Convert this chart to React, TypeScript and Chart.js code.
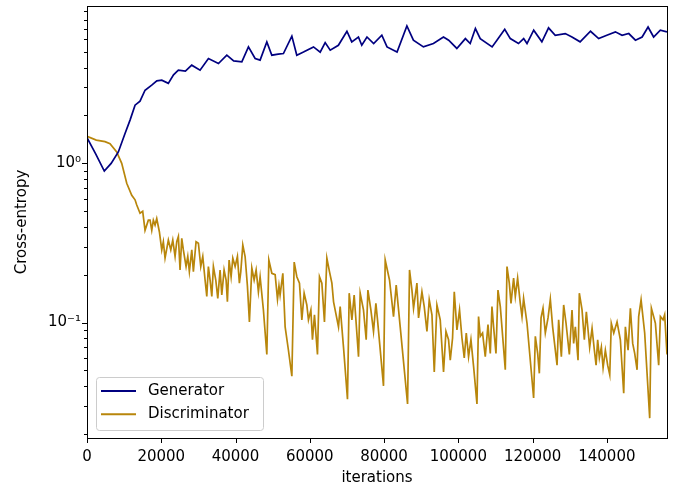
import React, { useEffect, useRef } from 'react';
import { Chart, registerables } from 'chart.js';

Chart.register(...registerables);

// ---------------- data ----------------
const genIter = [
  0, 2300, 4660, 6500, 8440, 10240, 11590, 12940, 14280, 15630, 17430, 18800, 20130, 21900, 23300,
  24600, 26500, 28200, 30450, 32700, 35400, 37650, 39500, 41700, 43480, 45280, 46620, 48430, 49780,
  51500, 52900, 55170, 56500, 58300, 61000, 62800, 64140, 65500, 67700, 70000, 71300, 73100, 74000,
  75400, 77200, 79400, 80800, 83500, 86150, 87900, 90600, 93300, 96000, 97400, 99600, 101900, 103200,
  104600, 105900, 109100, 110400, 112500, 114000, 116200, 117600, 118500, 120300, 122500, 124300,
  126100, 128800, 130600, 132800, 135600, 137800, 140000, 142300, 144100, 145900, 147700, 149500,
  151100, 152600, 154400, 156200,
];
const genLoss = [
  1.45, 1.15, 0.895, 1.0, 1.18, 1.54, 1.87, 2.32, 2.46, 2.88, 3.1, 3.3, 3.33, 3.18, 3.6,
  3.85, 3.8, 4.14, 3.85, 4.56, 4.24, 4.78, 4.4, 4.34, 5.39, 4.56, 4.45, 5.8, 4.78,
  4.85, 4.9, 6.3, 4.78, 5.0, 5.39, 5.0, 5.74, 5.14, 5.52, 6.76, 5.8, 6.22, 5.52,
  6.22, 5.66, 6.38, 5.39, 5.0, 7.3, 5.94, 5.39, 5.66, 6.22, 5.94, 5.27, 6.08, 5.66,
  7.03, 6.08, 5.39, 5.94, 6.96, 6.08, 5.66, 6.08, 5.66, 6.86, 5.8, 7.1,
  6.38, 6.54, 6.22, 5.8, 6.76, 6.08, 6.38, 6.7, 6.38, 6.54, 5.94, 6.22,
  7.19, 6.22, 6.86, 6.7,
];

const discIter = [
  0, 2500, 4850, 6200, 8000, 9350, 10700, 12050, 12940, 13400, 14280, 15000, 15630, 16520,
  16980, 17440, 17870, 18330, 18780, 19490, 20130, 20560, 21020, 21910, 22560, 23100, 23720, 24170,
  24610, 25060, 25520, 25950, 26680, 27140, 27570, 28220, 28650, 29370, 30000, 30640, 31180, 31800,
  32260, 32690, 33150, 33610, 34040, 34680, 35220, 35840, 36300, 36920, 37460, 37810, 38270, 38810,
  39270, 39890, 40510, 41040, 41420, 41960, 42580, 43200, 43740, 44390, 45010, 45550, 46160, 46620,
  47510, 48430, 48970,
  49780, 50670, 51300, 51700, 52000, 52740, 53360, 54250, 55170, 55800, 56510,
  57220, 57860, 58480, 59200, 59640, 60290, 60720, 61260, 62070, 62610, 63250, 63950, 64600, 65300,
  65950, 66400, 67730, 68180, 69080, 70150, 70610, 71340, 71950, 73120, 73570, 74460, 75190, 75650,
  76450, 77160, 77800, 78240, 79850, 80310, 80770, 81470, 82550, 83270, 84350, 86330, 86860, 87510,
  87940, 88850, 89290, 90200, 90820, 91550, 92170, 92900, 93520, 94240, 95130, 96020, 96670, 97370,
  97830, 98450, 98910, 99630, 100330, 100980, 101600, 102140, 102760, 103400, 104110, 105020, 105450,
  105910, 106530, 107260, 107990, 108610, 109060, 109500, 110140, 110680, 111310, 112650, 113110,
  113730, 114190, 114890, 115350, 115970, 116690, 117150, 117580, 118500, 120280, 120740, 121370,
  121820, 122280, 122810, 123430, 124160, 124780, 125400, 126590, 127020, 127750, 128370, 129010,
  129900, 130620, 131060, 131520, 132240, 132590, 133320, 133940, 134480, 135370, 136020, 136640,
  137100, 137530, 137990, 138520, 138990, 139600, 140220, 140780, 141200, 141860, 142750, 143640,
  144540, 144990, 145720, 146340, 146960, 147500, 148140, 148570, 149220, 150190, 151540, 152000,
  152610, 153070, 153960, 154420, 155140, 155570, 156200,
];
const discLoss = [
  1.48, 1.4, 1.37, 1.33, 1.18, 1.0, 0.75, 0.63, 0.59, 0.548, 0.486, 0.5, 0.38, 0.44,
  0.44, 0.38, 0.44, 0.41, 0.45, 0.372, 0.286, 0.322, 0.254, 0.33, 0.286, 0.33, 0.26, 0.322,
  0.347, 0.214, 0.338, 0.286, 0.225, 0.26, 0.209, 0.286, 0.209, 0.322, 0.315, 0.225, 0.26, 0.185,
  0.146, 0.225, 0.185, 0.146, 0.225, 0.185, 0.142, 0.214, 0.149, 0.214, 0.185, 0.135, 0.247, 0.194,
  0.254, 0.225, 0.26, 0.177, 0.209, 0.307, 0.26, 0.17, 0.101, 0.22, 0.185, 0.214, 0.156, 0.194,
  0.12, 0.063, 0.247,
  0.204, 0.2, 0.14, 0.17, 0.149, 0.204, 0.094, 0.067, 0.046, 0.24, 0.194,
  0.177, 0.104, 0.153, 0.129, 0.104, 0.12, 0.078, 0.112, 0.063, 0.194, 0.177, 0.101, 0.254, 0.209,
  0.177, 0.135, 0.094, 0.126, 0.07, 0.033, 0.153, 0.104, 0.149, 0.061, 0.153, 0.12, 0.078, 0.16,
  0.12, 0.088, 0.132, 0.104, 0.04, 0.247, 0.22, 0.185, 0.109, 0.172, 0.094, 0.0308, 0.214, 0.16,
  0.123, 0.177, 0.107, 0.156, 0.126, 0.088, 0.139, 0.112, 0.049, 0.129, 0.104, 0.049, 0.088, 0.078,
  0.058, 0.08, 0.156, 0.09, 0.12, 0.08, 0.06, 0.086, 0.061, 0.078, 0.053, 0.0308, 0.109,
  0.082, 0.086, 0.061, 0.097, 0.064, 0.126, 0.094, 0.064, 0.16, 0.126, 0.0505, 0.225,
  0.177, 0.132, 0.19, 0.146, 0.19, 0.132, 0.109, 0.142, 0.099, 0.0336, 0.082, 0.064,
  0.048, 0.107, 0.123, 0.086, 0.107, 0.14, 0.094, 0.054, 0.104, 0.061, 0.129, 0.099,
  0.063, 0.12, 0.074, 0.094, 0.058, 0.153, 0.12, 0.078, 0.117, 0.07, 0.092, 0.067,
  0.054, 0.078, 0.06, 0.07, 0.052, 0.067, 0.054, 0.047, 0.099, 0.086, 0.101, 0.078,
  0.036, 0.094, 0.067, 0.123, 0.074, 0.064, 0.0505, 0.109, 0.139, 0.086, 0.0251, 0.123,
  0.109, 0.099, 0.054, 0.109, 0.104, 0.112, 0.063,
];

const seriesLabels = ['Generator', 'Discriminator'];
const xTicks = [0, 20000, 40000, 60000, 80000, 100000, 120000, 140000];
const yTicks = [
  0.02, 0.03, 0.04, 0.05, 0.06, 0.07, 0.08, 0.09,
  0.1, 0.2, 0.3, 0.4, 0.5, 0.6, 0.7, 0.8, 0.9,
  1, 2, 3, 4, 5, 6, 7, 8, 9,
];
const yMajorTicks = [0.1, 1];
const yMajorLabels = ['10⁻¹', '10⁰'];
const X_MIN = 0;
const X_MAX = 156200;
const Y_MIN = 0.01883;
const Y_MAX = 9.74;
const xTitle = 'iterations';
const yTitle = 'Cross-entropy';

// ---------------- styles ----------------
const FONT = 'DejaVu Sans';
const FONT_SIZE = 15;
const COLORS = ['#000080', '#b8860b'];

const isMajorY = (v: number) => yMajorTicks.some((m) => Math.abs(m - v) < 1e-9);

const mplPlugin = {
  id: 'mplDecor',
  afterDraw(chart: any) {
    const { ctx, chartArea: a, scales } = chart;
    const xs = scales.x;
    const ys = scales.y;
    ctx.save();
    ctx.strokeStyle = '#000';
    ctx.lineWidth = 1;
    // ticks
    ctx.beginPath();
    xTicks.forEach((v) => {
      const px = Math.round(xs.getPixelForValue(v)) + 0.5;
      ctx.moveTo(px, a.bottom);
      ctx.lineTo(px, a.bottom + 5);
    });
    yTicks.forEach((v) => {
      const py = Math.round(ys.getPixelForValue(v)) + 0.5;
      const len = isMajorY(v) ? 5 : 3;
      ctx.moveTo(a.left, py);
      ctx.lineTo(a.left - len, py);
    });
    ctx.stroke();
    // frame
    ctx.strokeRect(Math.round(a.left) + 0.5, Math.round(a.top) + 0.5,
      Math.round(a.right - a.left), Math.round(a.bottom - a.top));

    // legend
    const bx = a.left + 9;
    const by = a.bottom - 61;
    const bw = 167;
    const bh = 53;
    ctx.beginPath();
    if ((ctx as any).roundRect) (ctx as any).roundRect(bx + 0.5, by + 0.5, bw, bh, 3);
    else ctx.rect(bx + 0.5, by + 0.5, bw, bh);
    ctx.fillStyle = 'rgba(255,255,255,0.8)';
    ctx.fill();
    ctx.strokeStyle = '#cccccc';
    ctx.lineWidth = 1;
    ctx.stroke();
    ctx.font = `${FONT_SIZE}px "${FONT}"`;
    ctx.textBaseline = 'middle';
    ctx.textAlign = 'left';
    chart.data.datasets.forEach((ds: any, i: number) => {
      const cy = by + 14 + i * 23.3;
      ctx.strokeStyle = ds.borderColor;
      ctx.lineWidth = 2;
      ctx.beginPath();
      ctx.moveTo(bx + 5, cy);
      ctx.lineTo(bx + 40, cy);
      ctx.stroke();
      ctx.fillStyle = '#000';
      ctx.fillText(ds.label, bx + 52, cy);
    });
    ctx.restore();
  },
};

export default function App() {
  const ref = useRef<HTMLCanvasElement | null>(null);

  useEffect(() => {
    if (!ref.current) return;
    Chart.defaults.font.family = FONT;
    Chart.defaults.font.size = FONT_SIZE;
    Chart.defaults.color = '#000';

    const gen = genIter.map((x, i) => ({ x, y: genLoss[i] }));
    const disc = discIter.map((x, i) => ({ x, y: discLoss[i] }));

    const chart = new Chart(ref.current, {
      type: 'line',
      data: {
        datasets: [
          {
            label: seriesLabels[0],
            data: gen,
            borderColor: COLORS[0],
            backgroundColor: COLORS[0],
            borderWidth: 1.7,
            pointRadius: 0,
            tension: 0,
            fill: false,
          },
          {
            label: seriesLabels[1],
            data: disc,
            borderColor: COLORS[1],
            backgroundColor: COLORS[1],
            borderWidth: 1.7,
            pointRadius: 0,
            tension: 0,
            fill: false,
          },
        ],
      },
      options: {
        responsive: false,
        animation: false,
        layout: { padding: { left: 0, top: 6, right: 20, bottom: 0 } },
        plugins: {
          legend: { display: false },
          tooltip: { enabled: false },
        },
        scales: {
          x: {
            type: 'linear',
            min: X_MIN,
            max: X_MAX,
            afterBuildTicks: (s: any) => {
              s.ticks = xTicks.map((v) => ({ value: v }));
            },
            afterFit: (s: any) => {
              s.height = 51;
              s.paddingLeft = 0;
              s.paddingRight = 0;
            },
            ticks: {
              autoSkip: false,
              maxRotation: 0,
              padding: 5,
              color: '#000',
              font: { family: FONT, size: FONT_SIZE },
              callback: (v: any) => String(v),
            },
            grid: { display: true, drawOnChartArea: false, tickLength: 5, tickColor: 'rgba(0,0,0,0)' },
            border: { display: false },
            title: {
              display: true,
              text: xTitle,
              color: '#000',
              font: { family: FONT, size: FONT_SIZE },
              padding: { top: 2, bottom: 2 },
            },
          },
          y: {
            type: 'logarithmic',
            min: Y_MIN,
            max: Y_MAX,
            afterBuildTicks: (s: any) => {
              s.ticks = yTicks.map((v) => ({ value: v }));
            },
            afterFit: (s: any) => {
              s.width = 87;
              s.paddingTop = 0;
              s.paddingBottom = 0;
            },
            ticks: {
              autoSkip: false,
              padding: 2,
              color: '#000',
              font: { family: FONT, size: FONT_SIZE },
              callback: (v: any) => {
                const idx = yMajorTicks.findIndex((m) => Math.abs(m - Number(v)) < 1e-9);
                return idx >= 0 ? yMajorLabels[idx] : '';
              },
            },
            grid: { display: true, drawOnChartArea: false, tickLength: 4, tickColor: 'rgba(0,0,0,0)' },
            border: { display: false },
            title: {
              display: true,
              text: yTitle,
              color: '#000',
              font: { family: FONT, size: FONT_SIZE },
              padding: { top: 13, bottom: 13 },
            },
          },
        },
      },
      plugins: [mplPlugin],
    });
    return () => chart.destroy();
  }, []);

  return (
    <div style={{ position: 'fixed', left: 0, top: 0, width: 687, height: 489, background: '#fff' }}>
      <canvas ref={ref} width={687} height={489} style={{ display: 'block' }} />
    </div>
  );
}
